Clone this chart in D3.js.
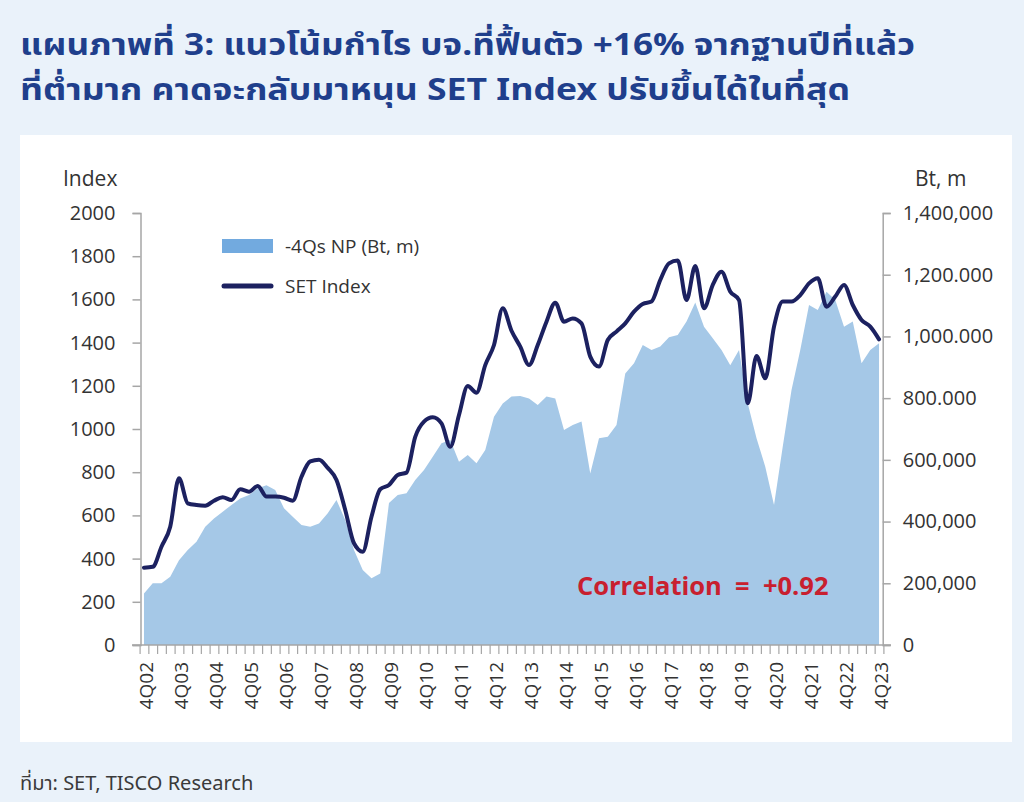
<!DOCTYPE html>
<html>
<head>
<meta charset="utf-8">
<script src="https://cdn.jsdelivr.net/npm/d3@7"></script>
<style>
  html, body { margin: 0; padding: 0; background: #eaf2fa; }
  svg { display: block; }
  text { font-family: "Open Sans", "Noto Sans", "DejaVu Sans", sans-serif; }
</style>
</head>
<body>
<svg id="chart" width="1024" height="802"></svg>
<script>
// ---------------- DATA ----------------
const quarters = [
  "4Q02","1Q03","2Q03","3Q03","4Q03","1Q04","2Q04","3Q04","4Q04","1Q05","2Q05","3Q05","4Q05",
  "1Q06","2Q06","3Q06","4Q06","1Q07","2Q07","3Q07","4Q07","1Q08","2Q08","3Q08","4Q08",
  "1Q09","2Q09","3Q09","4Q09","1Q10","2Q10","3Q10","4Q10","1Q11","2Q11","3Q11","4Q11",
  "1Q12","2Q12","3Q12","4Q12","1Q13","2Q13","3Q13","4Q13","1Q14","2Q14","3Q14","4Q14",
  "1Q15","2Q15","3Q15","4Q15","1Q16","2Q16","3Q16","4Q16","1Q17","2Q17","3Q17","4Q17",
  "1Q18","2Q18","3Q18","4Q18","1Q19","2Q19","3Q19","4Q19","1Q20","2Q20","3Q20","4Q20",
  "1Q21","2Q21","3Q21","4Q21","1Q22","2Q22","3Q22","4Q22","1Q23","2Q23","3Q23","4Q23"
];

// SET Index (left axis)
const setIndex = [
  358, 362, 455, 548, 772, 656, 648, 645, 668, 684, 671, 721, 710,
  736, 687, 687, 682, 668, 779, 850, 858, 820, 764, 625, 471,
  432, 594, 721, 741, 787, 798, 964, 1034, 1054, 1026, 918, 1065,
  1199, 1168, 1296, 1389, 1559, 1455, 1381, 1296, 1389, 1497, 1585, 1497,
  1512, 1489, 1335, 1289, 1412, 1451, 1489, 1543, 1579, 1590, 1690, 1767,
  1780, 1597, 1755, 1559, 1667, 1728, 1636, 1597, 1119, 1338, 1235, 1474,
  1590, 1590, 1620, 1674, 1698, 1566, 1613, 1667, 1574, 1505, 1474, 1415
];

// Trailing 4Qs net profit, Bt m (right axis)
const netProfit4Q = [
  167000, 200000, 200000, 221000, 275000, 308000, 335000, 383000, 410000, 432000, 454000, 475000, 486000,
  508000, 518000, 502000, 443000, 416000, 389000, 383000, 394000, 427000, 470000, 405000, 308000,
  243000, 216000, 232000, 460000, 486000, 492000, 535000, 567000, 610000, 654000, 664000, 594000,
  616000, 589000, 632000, 740000, 783000, 805000, 807000, 799000, 778000, 805000, 799000, 697000,
  713000, 724000, 556000, 670000, 675000, 713000, 880000, 913000, 972000, 956000, 967000, 997000,
  1005000, 1048000, 1110000, 1031000, 994000, 956000, 907000, 956000, 783000, 670000, 578000, 454000,
  643000, 826000, 956000, 1102000, 1086000, 1145000, 1118000, 1031000, 1048000, 913000, 956000, 978000
];

const leftTicks = [0, 200, 400, 600, 800, 1000, 1200, 1400, 1600, 1800, 2000];
const rightTicks = [0, 200000, 400000, 600000, 800000, 1000000, 1200000, 1400000];
const rightTickLabels = ["0", "200,000", "400,000", "600,000", "800.000", "1,000.000", "1,200.000", "1,400,000"];
const xTickLabels = ["4Q02","4Q03","4Q04","4Q05","4Q06","4Q07","4Q08","4Q09","4Q10","4Q11","4Q12",
                     "4Q13","4Q14","4Q15","4Q16","4Q17","4Q18","4Q19","4Q20","4Q21","4Q22","4Q23"];

const titleLines = [
  "แผนภาพที่ 3: แนวโน้มกำไร บจ.ที่ฟื้นตัว +16% จากฐานปีที่แล้ว",
  "ที่ต่ำมาก คาดจะกลับมาหนุน SET Index ปรับขึ้นได้ในที่สุด"
];
const seriesNames = ["-4Qs NP (Bt, m)", "SET Index"];
const sourceText = "ที่มา: SET, TISCO Research";
const correlationText = "Correlation  =  +0.92";

// ---------------- DRAW ----------------
const svg = d3.select("#chart");
const W = 1024, H = 802;

svg.append("rect").attr("width", W).attr("height", H).attr("fill", "#eaf2fa");
svg.append("rect").attr("x", 20).attr("y", 135).attr("width", 992).attr("height", 607).attr("fill", "#ffffff");

// Title
const titleFont = '"Noto Sans Thai", "Noto Sans Thai Looped", "Noto Sans", "DejaVu Sans", sans-serif';
const titleG = svg.append("g");
const titleTargets = [{y: 55, w: 895}, {y: 100, w: 830}];
titleLines.forEach((t, k) => {
  titleG.append("text")
    .attr("x", 20).attr("y", titleTargets[k].y)
    .attr("fill", "#1f3f8c")
    .attr("font-weight", "bold")
    .attr("font-size", 30)
    .style("font-family", titleFont)
    .attr("textLength", titleTargets[k].w)
    .attr("lengthAdjust", "spacingAndGlyphs")
    .text(t);
});

// Scales
const x = d3.scaleLinear().domain([-0.5, quarters.length - 0.5]).range([139.6, 883.4]);
const yL = d3.scaleLinear().domain([0, 2000]).range([645, 213]);
const yR = d3.scaleLinear().domain([0, 1400000]).range([645, 213]);

const axisColor = "#a6a6a6";
const labelColor = "#333333";

// Area
const area = d3.area()
  .x((d, i) => x(i))
  .y0(yR(0))
  .y1(d => yR(d));
svg.append("path")
  .datum(netProfit4Q)
  .attr("d", area)
  .attr("fill", "#a5c8e7");

// Line
const line = d3.line()
  .x((d, i) => x(i))
  .y(d => yL(d))
  .curve(d3.curveMonotoneX);
svg.append("path")
  .datum(setIndex)
  .attr("d", line)
  .attr("fill", "none")
  .attr("stroke", "#1c2160")
  .attr("stroke-width", 4)
  .attr("stroke-linejoin", "round")
  .attr("stroke-linecap", "round");

// Left axis
const leftAxis = d3.axisLeft(yL).tickValues(leftTicks).tickSize(8).tickPadding(17).tickFormat(d3.format("d"));
const gL = svg.append("g").attr("transform", "translate(140.5,0)").call(leftAxis);
gL.select(".domain").attr("stroke", axisColor).attr("stroke-width", 1.5);
gL.selectAll(".tick line").attr("stroke", axisColor).attr("stroke-width", 1.5);
gL.selectAll(".tick text").attr("fill", labelColor).attr("font-size", 20)
  .style("font-family", '"Open Sans", sans-serif');

// Right axis
const rightAxis = d3.axisRight(yR).tickValues(rightTicks).tickSize(8).tickPadding(12)
  .tickFormat((d, i) => rightTickLabels[i]);
const gR = svg.append("g").attr("transform", "translate(882.7,0)").call(rightAxis);
gR.select(".domain").attr("stroke", axisColor).attr("stroke-width", 1.5);
gR.selectAll(".tick line").attr("stroke", axisColor).attr("stroke-width", 1.5);
gR.selectAll(".tick text").attr("fill", labelColor).attr("font-size", 20)
  .style("font-family", '"Open Sans", sans-serif');

// X axis: minor ticks at category boundaries, labels each 4th quarter
const boundaries = d3.range(quarters.length + 1).map(k => k - 0.5);
const xMinor = d3.axisBottom(x).tickValues(boundaries).tickSize(9).tickFormat("");
const gX = svg.append("g").attr("transform", "translate(0,645)").call(xMinor);
gX.select(".domain").remove();
gX.selectAll(".tick line").attr("stroke", axisColor).attr("stroke-width", 1.2);
svg.append("line").attr("x1", 132).attr("x2", 891).attr("y1", 645).attr("y2", 645)
  .attr("stroke", axisColor).attr("stroke-width", 1.5);

const labelIdx = xTickLabels.map(l => quarters.indexOf(l));
svg.append("g").selectAll("text")
  .data(xTickLabels)
  .join("text")
  .attr("transform", (d, k) => `translate(${x(labelIdx[k]) + 2},662) rotate(-90)`)
  .attr("text-anchor", "end")
  .attr("dy", "0.35em")
  .attr("fill", labelColor)
  .attr("font-size", 19)
  .style("font-family", '"Open Sans", sans-serif')
  .text(d => d);

// Axis titles
svg.append("text").attr("x", 63).attr("y", 186).attr("fill", labelColor).attr("font-size", 21).text("Index");
svg.append("text").attr("x", 915).attr("y", 186).attr("fill", labelColor).attr("font-size", 21).text("Bt, m");

// Legend
svg.append("rect").attr("x", 222).attr("y", 239).attr("width", 51).attr("height", 14).attr("fill", "#72aadf");
svg.append("text").attr("x", 285).attr("y", 253).attr("fill", labelColor).attr("font-size", 19).text(seriesNames[0]);
svg.append("line").attr("x1", 224).attr("x2", 271).attr("y1", 286).attr("y2", 286)
  .attr("stroke", "#1c2160").attr("stroke-width", 5).attr("stroke-linecap", "round");
svg.append("text").attr("x", 285).attr("y", 293).attr("fill", labelColor).attr("font-size", 19).text(seriesNames[1]);

// Correlation annotation
svg.append("text").attr("x", 577).attr("y", 595)
  .attr("fill", "#c8202f").attr("font-weight", "bold").attr("font-size", 25.5)
  .style("font-family", '"Open Sans", sans-serif')
  .style("white-space", "pre")
  .text(correlationText);

// Source
svg.append("text").attr("x", 20).attr("y", 790).attr("fill", "#3a3a3a").attr("font-size", 20)
  .style("font-family", titleFont)
  .text(sourceText);
</script>
</body>
</html>
